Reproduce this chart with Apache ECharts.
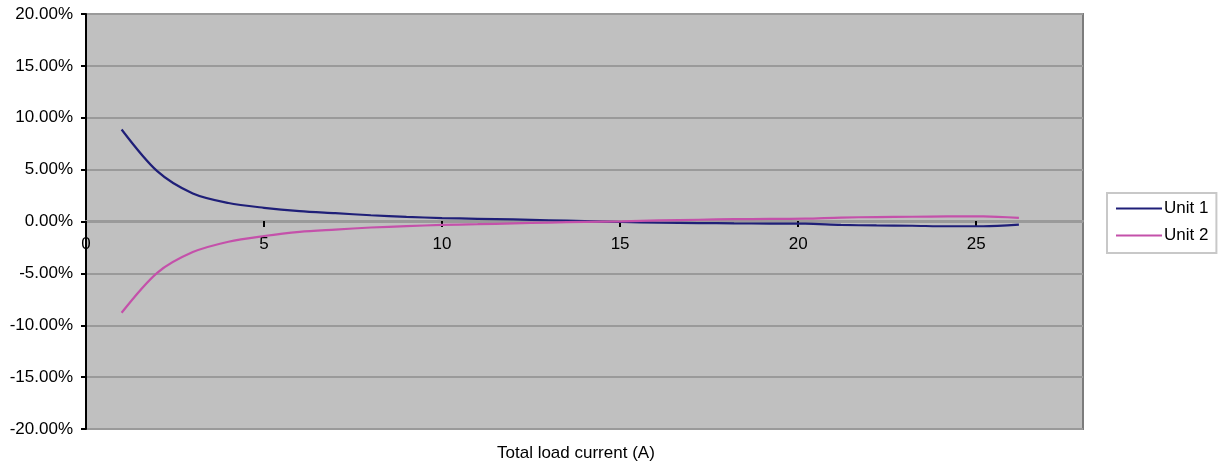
<!DOCTYPE html>
<html>
<head>
<meta charset="utf-8">
<script src="https://cdn.jsdelivr.net/npm/echarts@6/dist/echarts.min.js"></script>
<style>
html,body{margin:0;padding:0;background:#fff;}
#chart{width:1220px;height:469px;}
</style>
</head>
<body>
<div id="chart"></div>
<script>
// Total load current (A)
const current = [1, 2, 3, 4, 5, 6, 7, 8, 9, 10, 11, 12, 13, 14, 15.05, 16.1, 17.2, 18.2, 19.2, 20.2, 21.2, 22.2, 23.2, 24.2, 25.2, 26.2];
// Deviation (%)
const unit1 = [8.87, 4.85, 2.7, 1.78, 1.32, 1.0, 0.8, 0.6, 0.45, 0.33, 0.26, 0.2, 0.12, 0.04, -0.05, -0.12, -0.15, -0.18, -0.2, -0.21, -0.33, -0.38, -0.41, -0.46, -0.46, -0.3];
const unit2 = [-8.8, -4.95, -2.95, -1.95, -1.4, -1.0, -0.78, -0.58, -0.45, -0.33, -0.26, -0.18, -0.1, -0.03, 0.02, 0.1, 0.17, 0.22, 0.25, 0.27, 0.38, 0.43, 0.46, 0.49, 0.5, 0.35];
const seriesNames = ['Unit 1', 'Unit 2'];
const xTitle = 'Total load current (A)';

const pair = (xs, ys) => xs.map((x, i) => [x, ys[i]]);
const FONT = 'Liberation Sans, Arial, sans-serif';

const chart = echarts.init(document.getElementById('chart'), null, {renderer: 'canvas'});
chart.setOption({
  animation: false,
  backgroundColor: '#ffffff',
  grid: {
    left: 86, top: 14, right: 137, bottom: 40,
    show: true, backgroundColor: '#c0c0c0', borderColor: '#7c7c7c', borderWidth: 2
  },
  graphic: [{
    type: 'text', left: 497, top: 445,
    style: {text: xTitle, fontSize: 17, fontFamily: FONT, fill: '#000'}
  }],
  legend: {
    orient: 'vertical', left: 1107, top: 193,
    data: seriesNames,
    icon: 'rect',
    borderColor: '#c8c8c8', borderWidth: 2,
    padding: [7, 8, 9, 9], itemGap: 10,
    itemWidth: 46, itemHeight: 2,
    textStyle: {fontSize: 17, fontFamily: FONT, color: '#000', padding: [0, 0, 0, -3]}
  },
  xAxis: {
    type: 'value', min: 0, max: 28, interval: 5,
    offset: -208,
    axisLine: {onZero: false, lineStyle: {color: '#9a9a9a', width: 2}},
    axisTick: {show: true, length: 6, lineStyle: {color: '#000', width: 2}},
    axisLabel: {
      fontSize: 17, fontFamily: FONT, color: '#000', margin: 15,
      showMaxLabel: false,
      formatter: v => (v % 5 === 0 ? String(v) : '')
    },
    splitLine: {show: false}
  },
  yAxis: {
    type: 'value', min: -20, max: 20, interval: 5,
    axisLine: {show: true, lineStyle: {color: '#000', width: 2}},
    axisTick: {show: true, length: 5, lineStyle: {color: '#000', width: 2}},
    axisLabel: {
      fontSize: 17, fontFamily: FONT, color: '#000', margin: 13,
      formatter: v => v.toFixed(2) + '%'
    },
    splitLine: {show: true, lineStyle: {color: '#9a9a9a', width: 2}}
  },
  series: [
    {
      name: seriesNames[0], type: 'line', data: pair(current, unit1),
      smooth: 0.3, symbol: 'none',
      lineStyle: {color: '#1f1f78', width: 2.2}, itemStyle: {color: '#1f1f78'}
    },
    {
      name: seriesNames[1], type: 'line', data: pair(current, unit2),
      smooth: 0.3, symbol: 'none',
      lineStyle: {color: '#c451aa', width: 2.2}, itemStyle: {color: '#c451aa'}
    }
  ]
});
</script>
</body>
</html>
